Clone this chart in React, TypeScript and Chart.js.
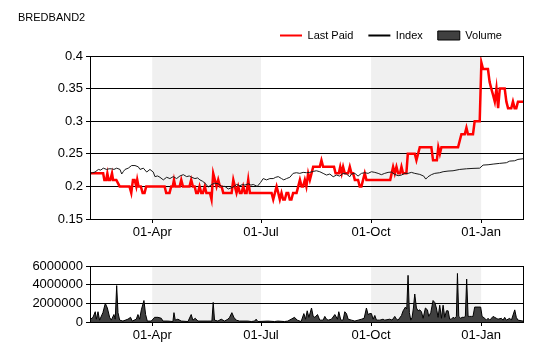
import React, { useEffect, useRef } from 'react';
import { Chart, registerables } from 'chart.js';

Chart.register(...registerables);

const TITLE = 'BREDBAND2';
const SERIES_NAMES = ['Last Paid', 'Index', 'Volume'];
const MONTH_TICK_DAYS = [90, 181, 273, 365];
const MONTH_TICK_LABELS = ['01-Apr', '01-Jul', '01-Oct', '01-Jan'];
const SHADE_STARTS = [90, 273];
const SHADE_ENDS = [181, 365];
const X_MIN = 38;
const X_MAX = 400;
const PRICE_TICKS = [0.15, 0.2, 0.25, 0.3, 0.35, 0.4];
const VOLUME_TICKS = [0, 2000000, 4000000, 6000000];

const lastPaidDays = [
  38, 49, 50, 51.5, 52.5, 53.5, 55, 56.4, 57.3, 60, 62.8, 71, 72.5, 73.9, 75.3, 76.7, 77.5, 78.6, 80.5, 82,
  83.6, 85, 100.4, 101.7, 104.5, 105.9, 107.2, 108.2, 109.3, 113, 114.3, 115.7, 121.2, 122.6, 124, 125.5, 126.8, 128.2, 129.6, 131,
  132.4, 134, 135.3, 138.3, 139.6, 141, 142.4, 143.8, 145.2, 146.6, 148, 149.4, 156.4, 157.8, 159.1, 160.5, 161.9, 163.3, 164.7, 166.1,
  167.5, 168.9, 170.3, 171.7, 189.8, 191.2, 192.6, 194, 195.4, 196.7, 198.1, 199.5, 200.9, 202.3, 203.7, 205, 206.4, 207.8, 210.7, 212.1,
  213.5, 214.9, 216.2, 217.6, 218.9, 220.4, 221.8, 223.2, 224.6, 230.1, 231.5, 232.9, 242, 243.3, 246, 247.2, 248.4, 249.6, 251, 253.8,
  255.2, 256.6, 258, 259.4, 262.1, 263.5, 264.9, 266.3, 267.7, 269.1, 289, 290.2, 291.4, 292.8, 294.2, 295.6, 297.2, 298.4, 299.7, 302.5,
  303.7, 309.5, 310.9, 312.3, 313.7, 323.4, 324.8, 328, 329.2, 330.5, 331.8, 345.7, 347.1, 348.5, 351.3, 352.7, 354, 358.2, 359.6, 363.8,
  365.2, 366.6, 370.7, 372.1, 373.5, 375, 376.4, 377.8, 379.2, 380.6, 384.7, 386.1, 387.5, 390.2, 391.6, 393, 394.4, 395.8, 400,
];
const lastPaidValues = [
  0.22, 0.22, 0.21, 0.21, 0.22, 0.21, 0.21, 0.22, 0.21, 0.21, 0.2, 0.2, 0.19, 0.21, 0.21, 0.2, 0.21, 0.2, 0.2, 0.19,
  0.19, 0.2, 0.2, 0.19, 0.19, 0.2, 0.2, 0.21, 0.2, 0.2, 0.21, 0.2, 0.2, 0.21, 0.2, 0.2, 0.19, 0.19, 0.2, 0.19,
  0.19, 0.2, 0.19, 0.19, 0.18, 0.22, 0.21, 0.2, 0.21, 0.2, 0.2, 0.19, 0.19, 0.21, 0.2, 0.19, 0.2, 0.19, 0.19, 0.2,
  0.19, 0.19, 0.21, 0.19, 0.19, 0.18, 0.19, 0.2, 0.19, 0.18, 0.19, 0.18, 0.18, 0.19, 0.19, 0.18, 0.18, 0.19, 0.19, 0.2,
  0.21, 0.2, 0.2, 0.21, 0.2, 0.22, 0.21, 0.22, 0.23, 0.23, 0.24, 0.23, 0.23, 0.22, 0.22, 0.23, 0.22, 0.23, 0.22, 0.22,
  0.23, 0.22, 0.22, 0.21, 0.21, 0.2, 0.2, 0.21, 0.22, 0.21, 0.21, 0.22, 0.23, 0.22, 0.23, 0.22, 0.22, 0.23, 0.22, 0.22,
  0.25, 0.25, 0.24, 0.25, 0.26, 0.26, 0.24, 0.24, 0.26, 0.25, 0.26, 0.26, 0.27, 0.28, 0.28, 0.29, 0.28, 0.28, 0.3, 0.3,
  0.39, 0.38, 0.38, 0.36, 0.35, 0.34, 0.33, 0.35, 0.32, 0.35, 0.35, 0.33, 0.32, 0.32, 0.33, 0.32, 0.32, 0.33, 0.33,
];

const indexDays = [
  38, 40, 42.2, 45, 47, 49.1, 51.9, 54, 56.1, 58, 60.3, 63.1, 64.5, 66, 67.3, 70, 72.8, 75.6, 78.4, 79.8,
  82.6, 85.4, 88.1, 90.9, 92.3, 94.5, 96.5, 99.3, 102.1, 104.8, 107.6, 110.4, 113.2, 116, 118.8, 121, 123, 125.7, 128, 129.9,
  132, 134.1, 136.9, 139.7, 142.4, 145.2, 148, 150.8, 153.6, 156.4, 158.5, 160.5, 163.3, 165.5, 167.5, 170.3, 172.5, 174.5, 177.8, 180.6,
  182.8, 185.6, 188.4, 191.2, 193.3, 195.4, 198.1, 200, 202.3, 205.1, 207.8, 210.6, 213.4, 216.2, 219, 221.8, 224.6, 227.3, 230.1, 232.9,
  235.7, 238.5, 241.3, 244.1, 246.8, 249.6, 252.4, 255.2, 256.6, 259.4, 262.1, 264.9, 267.7, 270.5, 273.3, 276.1, 278.9, 281.6, 284.4, 287.2,
  290, 292.8, 295.6, 298.4, 301.1, 303.9, 306.7, 309.5, 313.7, 317, 318.7, 320.6, 323.4, 326.2, 330.4, 333.2, 337.3, 341.5, 347.1, 352.7,
  358.2, 363.8, 366.6, 370.8, 375, 380.5, 386.1, 388.9, 393, 395.8, 400,
];
const indexValues = [
  0.22, 0.221, 0.222, 0.226, 0.225, 0.228, 0.226, 0.227, 0.227, 0.226, 0.228, 0.226, 0.219, 0.223, 0.226, 0.228, 0.232, 0.232, 0.23, 0.226,
  0.228, 0.222, 0.226, 0.222, 0.215, 0.216, 0.214, 0.21, 0.214, 0.212, 0.215, 0.212, 0.216, 0.218, 0.215, 0.216, 0.214, 0.212, 0.213, 0.21,
  0.208, 0.205, 0.199, 0.203, 0.205, 0.204, 0.2, 0.2, 0.196, 0.198, 0.2, 0.203, 0.201, 0.203, 0.202, 0.204, 0.202, 0.203, 0.2, 0.206,
  0.212, 0.21, 0.212, 0.212, 0.214, 0.215, 0.212, 0.21, 0.212, 0.214, 0.22, 0.221, 0.22, 0.2215, 0.221, 0.2215, 0.223, 0.224, 0.2225, 0.22,
  0.2174, 0.219, 0.2148, 0.2174, 0.2158, 0.22, 0.219, 0.2148, 0.219, 0.22, 0.2158, 0.22, 0.221, 0.22, 0.2225, 0.2215, 0.22, 0.218, 0.22, 0.2215,
  0.222, 0.2184, 0.2164, 0.2174, 0.22, 0.22, 0.2215, 0.22, 0.2184, 0.2158, 0.2112, 0.2148, 0.218, 0.22, 0.221, 0.2225, 0.2235, 0.224, 0.226, 0.227,
  0.2276, 0.228, 0.2327, 0.2332, 0.2342, 0.2353, 0.2363, 0.2388, 0.2393, 0.2414, 0.2424,
];

const volumeDays = [
  38.5, 40.5, 42.4, 43.3, 44.7, 46, 48.8, 50.8, 52.5, 54.4, 55.8, 58, 59.1, 60.3, 61.4, 62.8, 65.5, 69.7, 71.9, 73.3,
  76.7, 78.1, 79.5, 80.9, 83.1, 84.5, 85.9, 89.2, 92, 94.8, 97.6, 99, 103.1, 107.3, 108.2, 109.3, 111.5, 114.3, 119.9, 122.6,
  124, 126, 128.2, 136.6, 139.9, 141, 142.1, 144.9, 147.7, 150.5, 153.3, 154.7, 156.6, 158.3, 160.2, 163, 170, 172.8, 175.6, 176.9,
  178.3, 186.7, 192.3, 195, 200.6, 203.4, 206.2, 209, 211.2, 214.5, 216.8, 218.2, 219.6, 221, 223.2, 224.6, 226, 228.2, 230.1, 232.9,
  234.3, 235.7, 237.1, 239.9, 242.7, 244.9, 246, 247.7, 249.6, 251, 252.4, 253.8, 256.6, 259.4, 262.2, 265, 267.2, 269.1, 270.5, 271.9,
  273.3, 274.7, 276.1, 277.5, 280.3, 283, 284.4, 288.6, 290.6, 292.8, 294.2, 295.6, 298.4, 299.8, 301.7, 302.8, 303.9, 305, 306.2, 307.3,
  308.4, 309.5, 310.9, 312.3, 313.7, 315.1, 316.5, 318.4, 320.1, 321.2, 322.9, 324.8, 326.2, 327.6, 329, 330.4, 331.8, 333.2, 334.6, 336,
  337.4, 338.7, 340.1, 341.5, 342.9, 344.3, 345.2, 346.3, 347.9, 349.1, 350.7, 351.8, 352.9, 354.1, 355.5, 356.9, 358.2, 359.6, 362.4, 364.6,
  365.8, 368, 369.4, 370.8, 372.2, 375, 376.3, 377.7, 379.1, 381.9, 383.3, 384.7, 386.1, 387.5, 388.9, 390.3, 393.1, 394.4, 395.8, 400,
];
const volumeValues = [
  300000, 500000, 1100000, 300000, 1100000, 200000, 1000000, 2000000, 1500000, 500000, 200000, 800000, 300000, 3900000, 1000000, 200000, 100000, 300000, 500000, 100000,
  300000, 800000, 300000, 1300000, 2300000, 800000, 100000, 100000, 500000, 500000, 400000, 100000, 100000, 50000, 1000000, 200000, 300000, 100000, 50000, 800000,
  200000, 400000, 100000, 100000, 100000, 2100000, 200000, 100000, 300000, 100000, 300000, 500000, 1000000, 500000, 200000, 100000, 100000, 50000, 100000, 300000,
  50000, 100000, 50000, 100000, 50000, 100000, 300000, 500000, 200000, 50000, 900000, 300000, 1200000, 500000, 1500000, 600000, 500000, 800000, 200000, 200000,
  600000, 300000, 200000, 300000, 800000, 300000, 1100000, 200000, 200000, 1100000, 900000, 300000, 200000, 100000, 200000, 300000, 400000, 1500000, 800000, 900000,
  900000, 300000, 700000, 200000, 200000, 300000, 200000, 300000, 200000, 600000, 300000, 200000, 700000, 1200000, 1600000, 1400000, 5000000, 1000000, 200000, 500000,
  1500000, 3000000, 1500000, 1200000, 1300000, 1100000, 400000, 1500000, 1300000, 600000, 1000000, 2300000, 2100000, 1500000, 500000, 1800000, 400000, 1800000, 500000, 1200000,
  1200000, 300000, 300000, 500000, 400000, 600000, 5200000, 600000, 400000, 500000, 500000, 600000, 4600000, 600000, 600000, 600000, 600000, 1600000, 1600000, 1600000,
  600000, 400000, 200000, 400000, 200000, 600000, 500000, 400000, 300000, 400000, 200000, 500000, 200000, 300000, 400000, 200000, 1300000, 500000, 200000, 100000,
];

const FONT_FAMILY = '"Liberation Sans", Arial, sans-serif';
Chart.defaults.font.family = FONT_FAMILY;
Chart.defaults.color = '#000';

const toPoints = (xs: number[], ys: number[]) => xs.map((x, i) => ({ x, y: ys[i] }));

const framePlugin = {
  id: 'frameAndShade',
  beforeDraw(chart: any) {
    const { ctx, chartArea, scales } = chart;
    const x = scales.x;
    ctx.save();
    ctx.fillStyle = '#f0f0f0';
    SHADE_STARTS.forEach((s, i) => {
      const x0 = x.getPixelForValue(s);
      const x1 = x.getPixelForValue(SHADE_ENDS[i]);
      ctx.fillRect(x0, chartArea.top, x1 - x0, chartArea.bottom - chartArea.top);
    });
    ctx.restore();
  },
  afterDraw(chart: any) {
    const { ctx, chartArea } = chart;
    ctx.save();
    ctx.strokeStyle = '#000';
    ctx.lineWidth = 1;
    const l = Math.round(chartArea.left) + 0.5;
    const t = Math.round(chartArea.top) + 0.5;
    const r = Math.round(chartArea.right) + 0.5;
    const b = Math.round(chartArea.bottom) + 0.5;
    ctx.strokeRect(l, t, r - l, b - t);
    ctx.restore();
  },
};

// moves the title and legend blocks to their places after the layout is settled
const headerPlugin = {
  id: 'headerPlace',
  afterLayout(chart: any) {
    const t = chart.titleBlock;
    if (t) {
      const dy = 11.4 - t.top;
      t.top += dy;
      t.bottom += dy;
    }
    const lg = chart.legend;
    if (lg && lg.lineWidths) {
      const dl = 15 - lg.top;
      lg.top += dl;
      lg.bottom += dl;
      const newRight = 280 + lg.lineWidths[0] + 0.01;
      const dx = newRight - lg.right;
      lg.right += dx;
      lg.left += dx;
    }
  },
};

const xScale = (height: number) => ({
  type: 'linear' as const,
  min: X_MIN,
  max: X_MAX,
  afterBuildTicks: (s: any) => {
    s.ticks = MONTH_TICK_DAYS.map((v) => ({ value: v }));
  },
  afterFit: (s: any) => {
    s.height = height;
  },
  ticks: {
    autoSkip: false,
    maxRotation: 0,
    padding: 2,
    color: '#000',
    font: { size: 13 },
    callback: (v: any) => {
      const i = MONTH_TICK_DAYS.indexOf(Number(v));
      return i >= 0 ? MONTH_TICK_LABELS[i] : '';
    },
  },
  grid: { display: true, drawOnChartArea: false, drawTicks: true, tickLength: 4, color: '#000' },
  border: { display: true, color: '#000' },
});

export default function App() {
  const mainRef = useRef<HTMLCanvasElement>(null);
  const volRef = useRef<HTMLCanvasElement>(null);

  useEffect(() => {
    const main = new Chart(mainRef.current as HTMLCanvasElement, {
      type: 'line',
      data: {
        datasets: [
          {
            label: SERIES_NAMES[0],
            data: toPoints(lastPaidDays, lastPaidValues),
            borderColor: '#ff0000',
            borderWidth: 2.5,
            pointRadius: 0,
            tension: 0,
            order: 2,
          },
          {
            label: SERIES_NAMES[1],
            data: toPoints(indexDays, indexValues),
            borderColor: '#1a1a1a',
            borderWidth: 1,
            pointRadius: 0,
            tension: 0,
            order: 1,
          },
        ],
      },
      options: {
        responsive: false,
        animation: false,
        devicePixelRatio: 1,
        events: [],
        layout: { padding: { left: 18, right: 17, top: 6.8, bottom: 0 } },
        plugins: {
          tooltip: { enabled: false },
          title: {
            display: true,
            text: TITLE,
            align: 'start',
            color: '#000',
            font: { size: 11, weight: 'normal' },
            padding: 0,
          },
          legend: {
            display: true,
            position: 'top',
            align: 'end',
            labels: {
              usePointStyle: true,
              pointStyleWidth: 22,
              boxHeight: 9,
              padding: 15,
              color: '#000',
              font: { size: 11 },
              generateLabels: () => [
                { text: SERIES_NAMES[0], fillStyle: '#ff0000', strokeStyle: '#ff0000', lineWidth: 2, pointStyle: 'line', hidden: false, fontColor: '#000' },
                { text: SERIES_NAMES[1], fillStyle: '#000', strokeStyle: '#000', lineWidth: 2, pointStyle: 'line', hidden: false, fontColor: '#000' },
                { text: SERIES_NAMES[2], fillStyle: '#404040', strokeStyle: '#000', lineWidth: 1, pointStyle: 'rect', hidden: false, fontColor: '#000' },
              ] as any,
            },
          },
        },
        scales: {
          x: xScale(26) as any,
          y: {
            type: 'linear',
            min: 0.15,
            max: 0.4,
            afterBuildTicks: (s: any) => {
              s.ticks = PRICE_TICKS.map((v) => ({ value: v }));
            },
            afterFit: (s: any) => {
              s.width = 72;
            },
            ticks: {
              padding: 3,
              color: '#000',
              font: { size: 13 },
              callback: (v: any) => String(Math.round(Number(v) * 100) / 100),
            },
            grid: { color: '#000', lineWidth: 1, tickLength: 4 },
            border: { display: true, color: '#000' },
          },
        },
      },
      plugins: [framePlugin, headerPlugin],
    });

    const vol = new Chart(volRef.current as HTMLCanvasElement, {
      type: 'line',
      data: {
        datasets: [
          {
            label: SERIES_NAMES[2],
            data: toPoints(volumeDays, volumeValues),
            borderColor: '#000',
            backgroundColor: '#404040',
            borderWidth: 1,
            fill: 'origin',
            pointRadius: 0,
            tension: 0,
          },
        ],
      },
      options: {
        responsive: false,
        animation: false,
        devicePixelRatio: 1,
        events: [],
        layout: { padding: { left: 18, right: 17, top: 21, bottom: 0 } },
        plugins: {
          tooltip: { enabled: false },
          legend: { display: false },
          title: { display: false },
        },
        scales: {
          x: xScale(38) as any,
          y: {
            type: 'linear',
            min: 0,
            max: 6000000,
            afterBuildTicks: (s: any) => {
              s.ticks = VOLUME_TICKS.map((v) => ({ value: v }));
            },
            afterFit: (s: any) => {
              s.width = 72;
            },
            ticks: {
              padding: 3,
              color: '#000',
              font: { size: 13 },
              callback: (v: any) => String(Math.round(Number(v))),
            },
            grid: { color: '#000', lineWidth: 1, tickLength: 4 },
            border: { display: true, color: '#000' },
          },
        },
      },
      plugins: [framePlugin],
    });

    return () => {
      main.destroy();
      vol.destroy();
    };
  }, []);

  return (
    <div style={{ position: 'fixed', left: 0, top: 0, width: 540, height: 360, background: '#fff' }}>
      <canvas ref={mainRef} width={540} height={245} style={{ position: 'absolute', left: 0, top: 0, width: 540, height: 245 }} />
      <canvas ref={volRef} width={540} height={115} style={{ position: 'absolute', left: 0, top: 245, width: 540, height: 115 }} />
    </div>
  );
}
